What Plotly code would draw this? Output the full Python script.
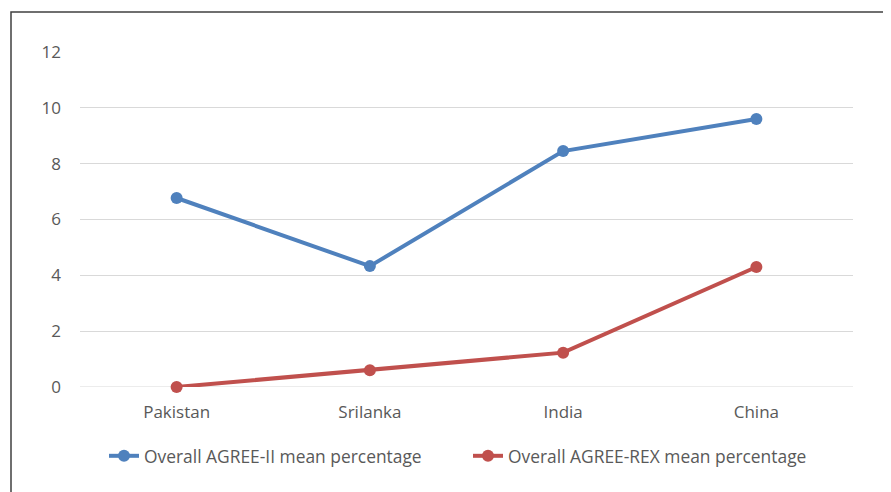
import plotly.graph_objects as go

categories = ["Pakistan", "Srilanka", "India", "China"]
agree_ii = [6.77, 4.33, 8.45, 9.6]
agree_rex = [0.0, 0.6, 1.23, 4.3]
series_names = ["Overall AGREE-II mean percentage", "Overall AGREE-REX mean percentage"]
y_ticks = [0, 2, 4, 6, 8, 10, 12]

OFF = 8  # page body margin
W, H = 891 - OFF, 492 - OFF
L, R, T, B = 80 - OFF, 853 - OFF, 52 - OFF, 387 - OFF

fig = go.Figure()
fig.add_trace(go.Scatter(x=categories, y=agree_ii, mode="lines+markers", name=series_names[0], cliponaxis=False,
                         line=dict(color="#4F81BD", width=4), marker=dict(size=12, color="#4F81BD")))
fig.add_trace(go.Scatter(x=categories, y=agree_rex, mode="lines+markers", name=series_names[1], cliponaxis=False,
                         line=dict(color="#C0504D", width=4), marker=dict(size=12, color="#C0504D")))

pw, ph = R - L, B - T
def px(x): return (x - OFF - L) / pw
def py(y): return (B - (y - OFF)) / ph

fig.update_layout(
    width=W, height=H,
    margin=dict(l=L, r=W - R, t=T, b=H - B),
    paper_bgcolor="white", plot_bgcolor="white",
    font=dict(family="Open Sans", size=17, color="#595959"),
    showlegend=True,
    legend=dict(orientation="h", x=px(104), xanchor="left", y=py(456), yanchor="middle",
                font=dict(size=17.4, color="#595959"), entrywidth=319, entrywidthmode="pixels"),
    xaxis=dict(type="category", range=[-0.5, 3.5], showgrid=False, showline=False, zeroline=False,
               ticks="", ticklabelstandoff=13),
    yaxis=dict(range=[0, 12], tickvals=y_ticks, showgrid=True, gridcolor="#D9D9D9", gridwidth=1,
               zeroline=False, showline=False, ticks="", ticklabelstandoff=18),
    shapes=[dict(type="rect", xref="paper", yref="paper", x0=px(11), x1=px(886), y0=py(520), y1=py(12),
                 line=dict(color="#404040", width=1.5), fillcolor="rgba(0,0,0,0)", layer="below")],
)
fig.add_shape(type="line", xref="paper", yref="y", x0=0, x1=1, y0=0, y1=0,
              line=dict(color="#D9D9D9", width=1), layer="below")

fig.write_html("out.html")
